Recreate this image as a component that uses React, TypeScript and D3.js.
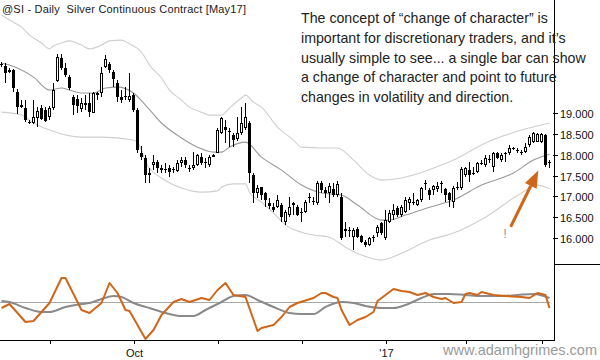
import React, { useRef, useEffect } from 'react';
import * as d3 from 'd3';

// Silver (@SI) daily bars, index 0 = mid Aug 2016, last = early Mar 2017
const opens = [
  20.17, 20.13, 19.98, 20.03, 19.50, 19.14, 19.12, 18.78, 18.76, 18.88,
  19.12, 19.07, 18.90, 19.12, 19.77, 20.32, 20.08, 19.86, 19.38, 19.34,
  19.10, 19.24, 19.24, 19.00, 19.48, 19.48, 20.10, 20.18, 19.98, 19.72,
  19.38, 19.38, 19.31, 19.43, 19.07, 18.04, 17.92, 17.56, 17.75, 17.82,
  17.68, 17.63, 17.68, 17.63, 17.61, 17.80, 17.87, 17.68, 17.68, 17.75,
  17.94, 17.82, 17.75, 17.94, 18.04, 18.52, 18.66, 18.57, 18.47, 18.38,
  18.52, 18.64, 18.76, 17.51, 17.08, 17.22, 17.08, 16.84, 16.74, 16.74,
  16.79, 16.38, 16.55, 16.79, 16.74, 16.60, 16.62, 16.96, 16.86, 16.84,
  17.32, 17.15, 17.08, 17.18, 17.03, 16.98, 16.17, 16.19, 16.02, 16.22,
  16.05, 15.90, 15.83, 16.00, 16.12, 16.36, 16.00, 16.38, 16.55, 16.72,
  16.55, 16.62, 16.84, 16.86, 16.79, 16.91, 17.30, 17.15, 17.15, 17.18,
  17.30, 17.18, 17.08, 16.86, 17.20, 17.20, 17.51, 17.63, 17.54, 17.58,
  17.78, 17.75, 17.87, 17.70, 18.04, 17.87, 18.02, 18.04, 18.14, 18.11,
  18.06, 18.06, 18.23, 18.30, 18.30, 18.30, 18.47, 17.82,
];
const highs = [
  20.22, 20.20, 20.08, 20.06, 19.58, 19.31, 19.31, 18.83, 19.31, 19.14,
  19.19, 19.14, 19.17, 19.72, 20.42, 20.42, 20.20, 19.91, 19.43, 19.43,
  19.36, 19.43, 19.48, 19.50, 19.50, 20.10, 20.39, 20.22, 20.03, 19.79,
  19.55, 19.62, 19.96, 19.48, 19.12, 18.21, 17.99, 17.68, 17.98, 17.87,
  17.75, 17.80, 17.75, 17.70, 17.87, 17.94, 17.94, 17.75, 18.06, 18.02,
  18.04, 17.92, 17.99, 18.02, 18.64, 18.90, 18.83, 18.64, 18.52, 18.90,
  19.14, 19.24, 18.81, 17.56, 17.27, 17.22, 17.10, 16.96, 16.84, 17.03,
  16.84, 16.67, 16.98, 16.86, 16.79, 16.72, 16.91, 17.08, 16.98, 17.37,
  17.37, 17.22, 17.32, 17.32, 17.37, 17.08, 16.38, 16.26, 16.24, 16.26,
  16.07, 15.95, 16.02, 16.07, 16.31, 16.38, 16.67, 16.67, 16.82, 16.77,
  16.79, 16.98, 16.98, 17.08, 16.94, 17.22, 17.39, 17.20, 17.27, 17.34,
  17.37, 17.20, 17.10, 17.25, 17.34, 17.70, 17.70, 17.82, 17.70, 17.82,
  17.87, 17.98, 17.99, 18.06, 18.06, 18.04, 18.06, 18.23, 18.18, 18.16,
  18.11, 18.28, 18.47, 18.54, 18.52, 18.52, 18.50, 17.87,
];
const lows = [
  20.10, 19.72, 19.96, 19.50, 18.98, 19.12, 18.78, 18.74, 18.74, 18.66,
  18.83, 18.78, 18.83, 19.07, 19.74, 20.03, 19.86, 19.55, 18.95, 19.00,
  19.02, 19.07, 18.90, 19.00, 19.31, 19.38, 20.08, 19.96, 19.62, 19.26,
  19.24, 19.31, 19.26, 19.02, 18.04, 17.87, 17.32, 17.32, 17.63, 17.56,
  17.56, 17.56, 17.46, 17.56, 17.58, 17.70, 17.68, 17.58, 17.63, 17.73,
  17.75, 17.68, 17.70, 17.94, 18.04, 18.50, 18.28, 18.18, 18.18, 18.33,
  18.47, 18.59, 17.32, 16.84, 16.96, 16.91, 16.74, 16.70, 16.62, 16.72,
  16.38, 16.31, 16.50, 16.55, 16.53, 16.38, 16.60, 16.84, 16.79, 16.79,
  17.08, 16.96, 16.84, 16.98, 16.98, 15.95, 16.02, 16.02, 15.71, 16.00,
  15.88, 15.78, 15.81, 15.90, 16.02, 16.07, 15.95, 16.36, 16.43, 16.50,
  16.50, 16.60, 16.67, 16.79, 16.77, 16.86, 17.15, 16.91, 17.03, 17.10,
  17.08, 16.86, 16.74, 16.72, 17.15, 17.15, 17.46, 17.34, 17.51, 17.56,
  17.75, 17.70, 17.80, 17.58, 17.90, 17.82, 17.82, 17.99, 18.11, 18.04,
  17.99, 18.04, 18.18, 18.28, 18.30, 18.28, 17.70, 17.68,
];
const closes = [
  20.18, 19.96, 20.03, 19.60, 19.14, 19.19, 18.83, 18.76, 18.90, 19.05,
  18.86, 18.81, 19.12, 19.55, 20.34, 20.08, 19.91, 19.60, 19.19, 19.17,
  19.24, 19.19, 19.02, 19.48, 19.43, 19.96, 20.30, 20.03, 19.82, 19.38,
  19.31, 19.41, 19.41, 19.07, 18.11, 17.94, 17.51, 17.51, 17.82, 17.68,
  17.63, 17.66, 17.58, 17.66, 17.80, 17.87, 17.75, 17.66, 17.75, 17.98,
  17.80, 17.80, 17.94, 17.98, 18.59, 18.88, 18.59, 18.54, 18.35, 18.52,
  18.76, 18.90, 17.56, 17.08, 17.20, 17.03, 16.91, 16.77, 16.67, 16.91,
  16.50, 16.62, 16.74, 16.84, 16.55, 16.62, 16.86, 16.98, 16.89, 17.32,
  17.15, 17.08, 17.25, 17.03, 17.30, 16.00, 16.22, 16.17, 16.19, 16.02,
  15.90, 15.83, 16.00, 16.02, 16.26, 16.12, 16.43, 16.60, 16.67, 16.55,
  16.74, 16.91, 16.94, 16.84, 16.91, 17.20, 17.32, 17.03, 17.25, 17.25,
  17.32, 17.03, 16.91, 17.20, 17.22, 17.66, 17.68, 17.51, 17.56, 17.80,
  17.80, 17.92, 17.89, 18.04, 17.92, 17.98, 18.04, 18.16, 18.16, 18.09,
  18.04, 18.18, 18.42, 18.52, 18.50, 18.50, 17.75, 17.80,
];

// channel lines, read at sample bars
const upperAt = [0, 2, 5, 7, 10, 12, 13, 15, 17, 20, 22, 25, 27, 30, 32, 35, 37, 40, 42, 45, 47, 50, 52, 55, 57, 60, 61, 63, 65, 69, 73, 75, 80, 84, 88, 92, 95, 100, 103, 110, 113, 121, 130, 137];
const upperBand = [21.35, 21.23, 21.06, 20.87, 20.68, 20.54, 20.61, 20.68, 20.73, 20.63, 20.54, 20.63, 20.73, 20.75, 20.66, 20.46, 20.15, 19.84, 19.55, 19.31, 19.14, 19.02, 18.95, 18.95, 19.12, 19.36, 19.43, 19.26, 19.14, 18.66, 18.35, 18.18, 18.16, 18.16, 17.87, 17.51, 17.39, 17.44, 17.51, 17.75, 17.87, 18.28, 18.59, 18.76];
const midAt = [0, 2, 8, 12, 15, 17, 20, 23, 26, 29, 33, 36, 40, 45, 49, 53, 55, 57, 61, 65, 70, 75, 80, 85, 89, 95, 97, 101, 107, 113, 120, 128, 133, 137];
const midLine = [20.20, 20.15, 19.86, 19.55, 19.60, 19.55, 19.48, 19.48, 19.60, 19.62, 19.48, 19.19, 18.76, 18.40, 18.18, 18.06, 18.06, 18.18, 18.30, 17.94, 17.63, 17.27, 17.08, 17.03, 16.79, 16.43, 16.43, 16.55, 16.74, 16.91, 17.27, 17.56, 17.87, 18.01];
const lowerAt = [0, 5, 8, 12, 20, 25, 33, 35, 36, 40, 45, 50, 54, 55, 58, 61, 62, 65, 68, 71, 75, 78, 82, 86, 90, 95, 99, 107, 113, 121, 130, 134, 137];
const lowerBand = [19.02, 18.95, 18.76, 18.59, 18.42, 18.42, 18.35, 18.11, 17.82, 17.44, 17.20, 17.10, 17.13, 17.22, 17.30, 17.30, 17.10, 16.86, 16.60, 16.31, 16.14, 16.07, 16.02, 15.78, 15.59, 15.47, 15.59, 15.95, 16.12, 16.50, 17.08, 17.27, 17.18];

// oscillator panel (fast = orange, slow = gray)
const fastAt = [0, 2, 6, 8, 12, 15, 16, 20, 22, 25, 27, 29, 31, 32, 36, 38, 40, 43, 45, 47, 50, 52, 54, 56, 58, 61, 64, 65, 68, 70, 72, 74, 78, 80, 81, 83, 84, 85, 87, 89, 91, 93, 94, 95, 98, 100, 102, 104, 106, 108, 110, 111, 113, 115, 116, 117, 119, 120, 123, 126, 130, 132, 134, 136, 137];
const fastOsc = [-0.6, -0.2, -2.0, -1.9, -0.1, 2.4, 2.4, -0.8, -1.1, -0.1, 1.9, 0.9, -0.8, -0.9, -3.7, -2.8, -1.3, 0, 0.3, 0, 0.4, 0.2, 1.2, 1.9, 0.7, 0.5, -2.9, -2.6, -2.3, -1.5, -0.5, -0.1, 0.4, 0.9, 0.9, 0.5, 0.4, -0.8, -2.3, -1.8, -1.5, -1.0, 0.1, 0.4, 1.3, 1.1, 1.0, 0.7, 0.9, 0.5, 0.3, 0.4, -0.1, 0, 0.8, 0.9, 0.7, 1.0, 0.7, 0.6, 0.5, 0.4, 0.9, 0.7, -0.6];
const slowAt = [0, 2, 6, 10, 12, 16, 20, 22, 25, 28, 30, 33, 37, 41, 45, 48, 51, 55, 58, 61, 64, 68, 72, 75, 78, 81, 85, 88, 91, 95, 98, 101, 105, 108, 112, 116, 120, 125, 129, 133, 137];
const slowOsc = [0.1, 0, -0.6, -1.0, -1.0, -0.5, -0.2, -0.1, 0.3, 0.6, 0.5, -0.1, -0.6, -1.1, -1.4, -1.4, -0.8, 0, 0.6, 0.7, 0.2, -0.5, -1.1, -1.2, -1.2, -0.5, 0, -0.1, -0.4, -0.6, -0.6, -0.3, 0.4, 0.8, 0.8, 0.7, 0.6, 0.6, 0.7, 0.8, 0.4];

const priceTicks = [16, 16.5, 17, 17.5, 18, 18.5, 19];
const monthTicks = [12, 33, 54, 75, 96, 116, 135];
const monthLabels = ['', 'Oct', '', '', "'17", '', ''];

const title = '@SI - Daily  Silver Continuous Contract [May17]';
const noteLines = [
  'The concept of \u201cchange of character\u201d is',
  'important for discretionary traders, and it\u2019s',
  'usually simple to see... a single bar can show',
  'a change of character and point to future',
  'changes in volatility and direction.',
];
const site = 'www.adamhgrimes.com';

// annotation arrow, in bar / price units
const arrowFrom = [127.3, 16.27];
const arrowTo = [134.2, 17.62];
const bangAt = [125.9, 16.0];

const FONT = "'Liberation Sans', Arial, sans-serif";
const ORANGE = '#cf661a';

export default function App() {
  const svgRef = useRef<SVGSVGElement>(null);

  useEffect(() => {
    if (!svgRef.current) return;
    const svg = d3.select(svgRef.current);
    svg.selectAll('*').remove();

    const axisX = 554;
    const axisY = 340;

    const x = d3.scaleLinear().domain([0, closes.length - 1]).range([1.5, 549.5]);
    const y = d3.scaleLinear().domain([16, 19]).range([238, 113]);
    const yo = d3.scaleLinear().domain([-4, 3]).range([342, 272]);

    svg.append('rect').attr('width', 600).attr('height', 360).attr('fill', '#fff');

    // channel
    const band = (at: number[], vals: number[], color: string) => {
      const pts = at.map((a, k) => [a, vals[k]] as [number, number]);
      svg.append('path')
        .datum(pts)
        .attr('fill', 'none')
        .attr('stroke', color)
        .attr('stroke-width', 1.1)
        .attr('d', d3.line<[number, number]>()
          .x(d => x(d[0]))
          .y(d => y(d[1]))
          .curve(d3.curveMonotoneX));
    };
    band(upperAt, upperBand, '#cfcfcf');
    band(lowerAt, lowerBand, '#cfcfcf');
    band(midAt, midLine, '#9a9a9a');

    // candles
    const cg = svg.append('g').attr('shape-rendering', 'crispEdges');
    closes.forEach((c, i) => {
      const o = opens[i];
      const cx = x(i);
      const hi = Math.round(y(highs[i]));
      const lo = Math.round(y(lows[i]));
      const top = Math.round(y(Math.max(o, c)));
      const bot = Math.round(y(Math.min(o, c)));
      const h = Math.max(1, bot - top);

      cg.append('line')
        .attr('x1', cx).attr('x2', cx)
        .attr('y1', hi).attr('y2', Math.max(lo, hi + 1))
        .attr('stroke', '#000');

      if (c >= o && h >= 3) {
        cg.append('rect')
          .attr('x', cx - 1).attr('y', top + 0.5)
          .attr('width', 2).attr('height', h - 1)
          .attr('fill', '#fff').attr('stroke', '#000');
      } else {
        cg.append('rect')
          .attr('x', cx - 1.5).attr('y', top)
          .attr('width', 3).attr('height', h)
          .attr('fill', '#000');
      }
    });

    // oscillator
    svg.append('line')
      .attr('x1', 0).attr('x2', 550)
      .attr('y1', Math.round(yo(0)) + 0.5).attr('y2', Math.round(yo(0)) + 0.5)
      .attr('stroke', '#a8a8a8');

    const oscLine = (at: number[], vals: number[], color: string, curve: d3.CurveFactory) => {
      const pts = at.map((a, k) => [a, vals[k]] as [number, number]);
      svg.append('path')
        .datum(pts)
        .attr('fill', 'none')
        .attr('stroke', color)
        .attr('stroke-width', 2)
        .attr('stroke-linejoin', 'round')
        .attr('d', d3.line<[number, number]>()
          .x(d => x(d[0]))
          .y(d => yo(d[1]))
          .curve(curve));
    };
    oscLine(slowAt, slowOsc, '#8a8a8a', d3.curveMonotoneX);
    oscLine(fastAt, fastOsc, ORANGE, d3.curveLinear);

    // axes
    const ax = svg.append('g').attr('shape-rendering', 'crispEdges').attr('stroke', '#000');
    ax.append('line').attr('x1', axisX + 0.5).attr('x2', axisX + 0.5).attr('y1', 0).attr('y2', axisY + 1);
    ax.append('line').attr('x1', 0).attr('x2', axisX + 1).attr('y1', axisY + 0.5).attr('y2', axisY + 0.5);
    ax.append('line').attr('x1', axisX).attr('x2', 600).attr('y1', 264.5).attr('y2', 264.5);

    priceTicks.forEach(v => {
      const ty = Math.round(y(v)) + 0.5;
      ax.append('line').attr('x1', axisX - 1).attr('x2', axisX + 4).attr('y1', ty).attr('y2', ty);
      svg.append('text')
        .attr('x', 560).attr('y', ty + 4)
        .attr('font-family', FONT).attr('font-size', 11)
        .attr('fill', '#111')
        .text(v.toFixed(3));
    });

    monthTicks.forEach((m, k) => {
      const tx = Math.round(x(m)) + 0.5;
      ax.append('line').attr('x1', tx).attr('x2', tx).attr('y1', axisY).attr('y2', axisY + 4);
      if (monthLabels[k]) {
        svg.append('text')
          .attr('x', tx).attr('y', 357)
          .attr('text-anchor', 'middle')
          .attr('font-family', FONT).attr('font-size', 11)
          .attr('fill', '#111')
          .text(monthLabels[k]);
      }
    });

    // title + note
    svg.append('text')
      .attr('x', 2).attr('y', 13)
      .attr('font-family', FONT).attr('font-size', 11)
      .attr('fill', '#1a1a1a')
      .attr('textLength', 244).attr('lengthAdjust', 'spacing')
      .style('white-space', 'pre')
      .text(title);

    noteLines.forEach((line, k) => {
      svg.append('text')
        .attr('x', 301).attr('y', 23 + k * 19.75)
        .attr('font-family', FONT).attr('font-size', 14.2)
        .attr('fill', '#222')
        .text(line);
    });

    svg.append('text')
      .attr('x', 597).attr('y', 355)
      .attr('text-anchor', 'end')
      .attr('font-family', FONT).attr('font-size', 14.5)
      .attr('fill', '#9a9a9a')
      .text(site);

    // arrow
    const x0 = x(arrowFrom[0]), y0 = y(arrowFrom[1]);
    const x1 = x(arrowTo[0]), y1 = y(arrowTo[1]);
    const ang = Math.atan2(y1 - y0, x1 - x0);
    const headLen = 17, headW = 6.5;
    const bx = x1 - headLen * Math.cos(ang), by = y1 - headLen * Math.sin(ang);
    svg.append('line')
      .attr('x1', x0).attr('y1', y0).attr('x2', bx).attr('y2', by)
      .attr('stroke', ORANGE).attr('stroke-width', 3);
    svg.append('path')
      .attr('d', `M${x1},${y1}L${bx + headW * Math.sin(ang)},${by - headW * Math.cos(ang)}L${bx - headW * Math.sin(ang)},${by + headW * Math.cos(ang)}Z`)
      .attr('fill', ORANGE);

    svg.append('text')
      .attr('x', x(bangAt[0])).attr('y', y(bangAt[1]))
      .attr('text-anchor', 'middle')
      .attr('font-family', FONT).attr('font-size', 13)
      .attr('fill', '#999')
      .text('!');
  }, []);

  return (
    <svg
      ref={svgRef}
      width={600}
      height={360}
      style={{ position: 'absolute', left: 0, top: 0 }}
    />
  );
}
